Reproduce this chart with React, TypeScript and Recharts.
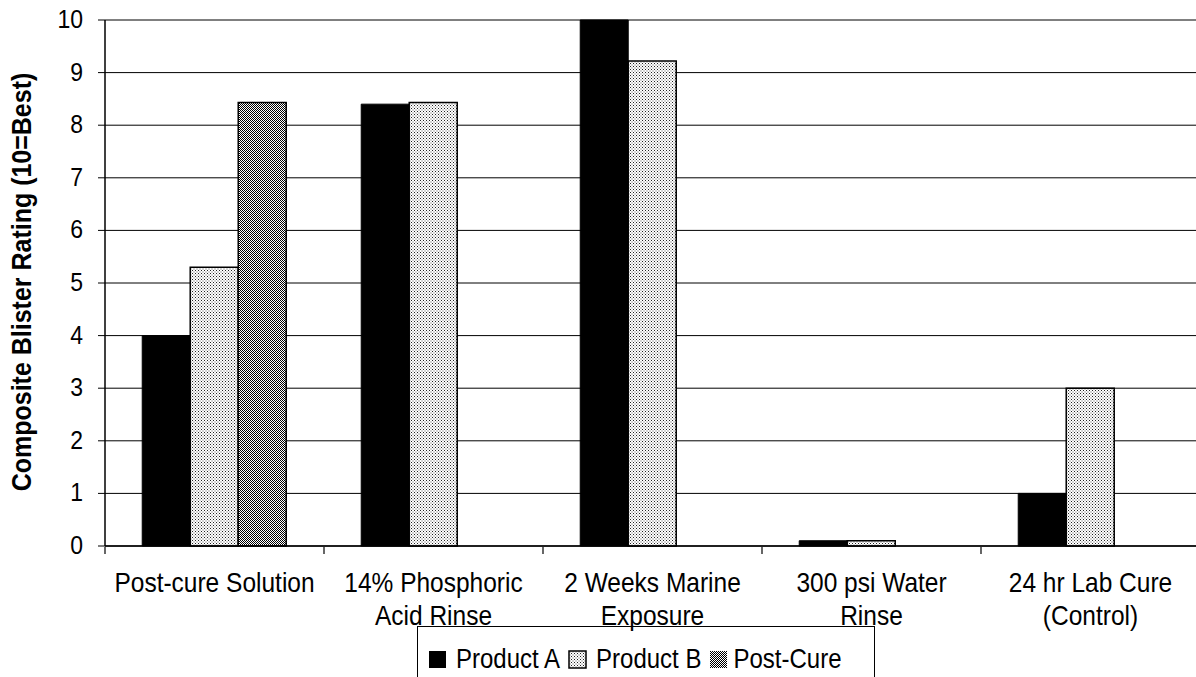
import React from 'react';
import { BarChart, Bar, XAxis, YAxis, CartesianGrid } from 'recharts';

const categories = [
  ['Post-cure Solution'],
  ['14% Phosphoric', 'Acid Rinse'],
  ['2 Weeks Marine', 'Exposure'],
  ['300 psi Water', 'Rinse'],
  ['24 hr Lab Cure', '(Control)'],
];
const productA = [4.0, 8.4, 10.0, 0.1, 1.0];
const productB = [5.3, 8.43, 9.22, 0.1, 3.0];
const postCure = [8.43, 0, 0, 0, 0];
const yTicks = [0, 1, 2, 3, 4, 5, 6, 7, 8, 9, 10];
const boundaryTicks = [0, 1, 2, 3, 4, 5];

const data = categories.map((c, i) => ({
  name: c.join('\n'),
  idx: i,
  a: productA[i],
  b: productB[i],
  pc: postCure[i],
}));

const FONT = '"Liberation Sans", Arial, sans-serif';

// Excel-style text looks a bit taller than wide
const CatTick = (props: any) => {
  const { x, y, payload } = props;
  const lines = String(payload.value).split('\n');
  return (
    <g>
      {lines.map((l, i) => (
        <text
          key={i}
          transform={`translate(${x},${y + 38 + i * 33}) scale(1,1.1)`}
          textAnchor="middle"
          fontSize={24.5}
          fontFamily={FONT}
          fill="#000"
        >
          {l}
        </text>
      ))}
    </g>
  );
};

const YTick = (props: any) => {
  const { x, y, payload } = props;
  return (
    <text
      transform={`translate(${x},${y + 8}) scale(1,1.12)`}
      textAnchor="end"
      fontSize={23}
      fontFamily={FONT}
      fill="#000"
    >
      {payload.value}
    </text>
  );
};

const EmptyTick = () => <g />;

const YLabel = () => (
  <text
    transform="translate(31,282) rotate(-90) scale(1,1.1)"
    textAnchor="middle"
    fontSize={25}
    fontWeight="bold"
    fontFamily={FONT}
    fill="#000"
  >
    Composite Blister Rating (10=Best)
  </text>
);

const Swatch = ({ fill, border }: { fill: string; border: boolean }) => (
  <svg width={19} height={19} style={{ display: 'block' }}>
    <rect x={1} y={1} width={17} height={17} fill={fill} stroke="#000" strokeWidth={border ? 1.5 : 0} />
  </svg>
);

export default function App() {
  return (
    <div style={{ position: 'absolute', left: 0, top: 0, width: 1196, height: 677, overflow: 'hidden', background: '#fff' }}>
      <svg width={0} height={0} style={{ position: 'absolute' }}>
        <defs>
          <pattern id="patB" width={3} height={3} patternUnits="userSpaceOnUse">
            <rect width={3} height={3} fill="#fff" />
            <rect x={0} y={0} width={1} height={1} fill="#222" />
            <rect x={1.5} y={1.5} width={1} height={1} fill="#555" />
          </pattern>
          <pattern id="patPC" width={2} height={2} patternUnits="userSpaceOnUse">
            <rect width={2} height={2} fill="#fff" />
            <rect x={0} y={0} width={1} height={1} fill="#000" />
            <rect x={1} y={1} width={1} height={1} fill="#000" />
          </pattern>
        </defs>
      </svg>
      <BarChart
        width={1200}
        height={677}
        data={data}
        margin={{ top: 20, right: 0, left: 0, bottom: 51 }}
        barCategoryGap="17%"
        barGap={0}
      >
        <CartesianGrid vertical={false} stroke="#000" strokeWidth={1} />
        <XAxis
          dataKey="name"
          tick={<CatTick />}
          tickLine={false}
          axisLine={{ stroke: '#000', strokeWidth: 1.5 }}
          interval={0}
          height={1}
        />
        {/* boundary tick marks between categories */}
        <XAxis
          xAxisId="bounds"
          type="number"
          dataKey="idx"
          domain={[0, 5]}
          ticks={boundaryTicks}
          tick={<EmptyTick />}
          axisLine={false}
          tickLine={{ stroke: '#000', strokeWidth: 1.2 }}
          tickSize={7}
          height={79}
          allowDataOverflow
        />
        <YAxis
          domain={[0, 10]}
          ticks={yTicks}
          width={105}
          tickSize={7}
          tickMargin={15}
          tickLine={{ stroke: '#000' }}
          axisLine={{ stroke: '#000', strokeWidth: 1.5 }}
          tick={<YTick />}
          label={<YLabel />}
        />
        <Bar dataKey="a" fill="#000" stroke="#000" strokeWidth={1} isAnimationActive={false} />
        <Bar dataKey="b" fill="url(#patB)" stroke="#000" strokeWidth={1.5} isAnimationActive={false} />
        <Bar dataKey="pc" fill="url(#patPC)" stroke="#000" strokeWidth={1.5} isAnimationActive={false} />
      </BarChart>
      <div
        style={{
          position: 'absolute',
          left: 417,
          top: 626,
          width: 458,
          height: 60,
          border: '1px solid #000',
          boxSizing: 'border-box',
          fontFamily: FONT,
          fontSize: 24,
          color: '#000',
          display: 'flex',
          alignItems: 'flex-start',
          paddingTop: 20,
          paddingLeft: 10,
          lineHeight: '24px',
        }}
      >
        <div style={{ display: 'flex', alignItems: 'center' }}>
          <Swatch fill="#000" border={false} />
          <span style={{ marginLeft: 9, display: 'inline-block', transform: 'scaleY(1.12)' }}>Product A</span>
        </div>
        <div style={{ display: 'flex', alignItems: 'center', marginLeft: 8 }}>
          <Swatch fill="url(#patB)" border={true} />
          <span style={{ marginLeft: 9, display: 'inline-block', transform: 'scaleY(1.12)' }}>Product B</span>
        </div>
        <div style={{ display: 'flex', alignItems: 'center', marginLeft: 8 }}>
          <Swatch fill="url(#patPC)" border={false} />
          <span style={{ marginLeft: 5, display: 'inline-block', transform: 'scaleY(1.12)' }}>Post-Cure</span>
        </div>
      </div>
    </div>
  );
}
